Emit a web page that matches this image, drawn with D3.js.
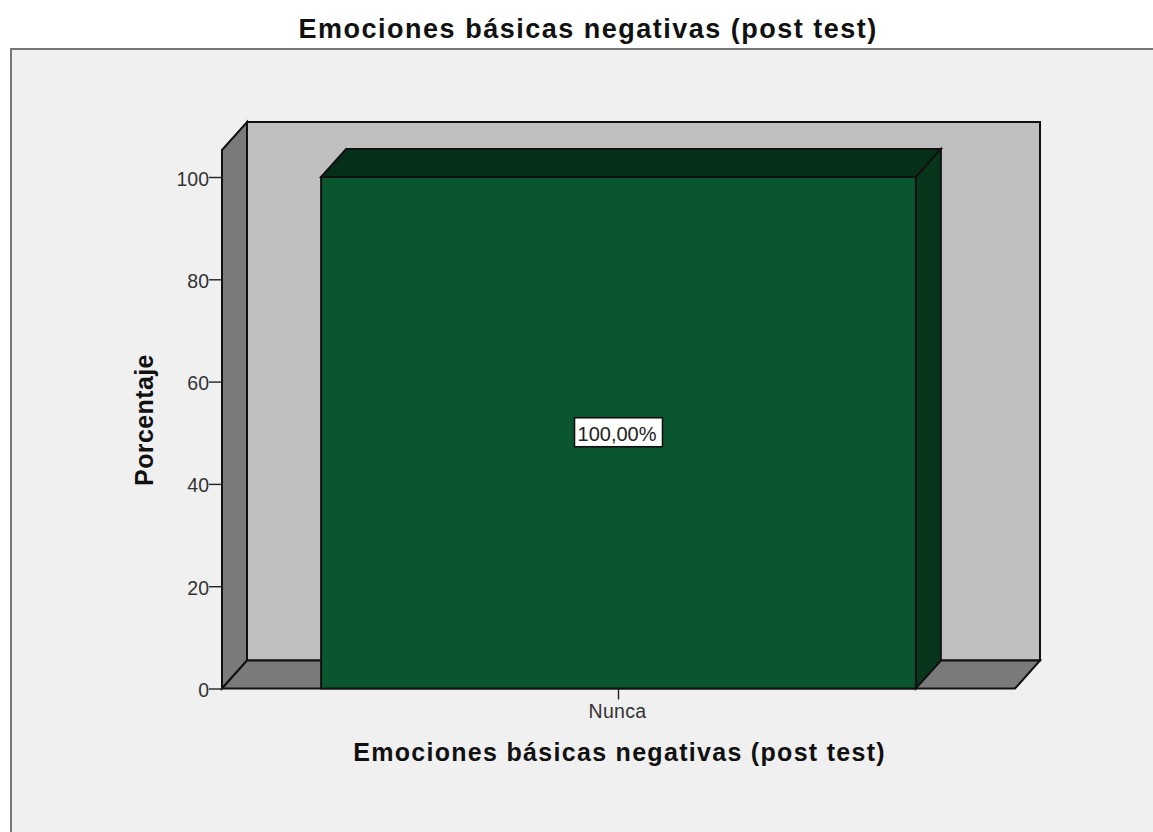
<!DOCTYPE html>
<html><head><meta charset="utf-8">
<script src="https://cdnjs.cloudflare.com/ajax/libs/d3/7.8.5/d3.min.js"></script>
<style>html,body{margin:0;padding:0;background:#fff}svg{display:block;font-family:"Liberation Sans",Arial,sans-serif}</style>
</head><body><div id="c"></div>
<script>
const categories = ["Nunca"];
const values = [100];
const valueLabels = ["100,00%"];
const yTicks = [0, 20, 40, 60, 80, 100];
const chartTitle = "Emociones básicas negativas (post test)";
const xTitle = "Emociones básicas negativas (post test)";
const yTitle = "Porcentaje";

const W = 1153, H = 832, dx = 25, dy = 28;
const left = 222, right = 1015, base = 688.5, top100 = 177;
const x = d3.scaleBand().domain(categories).range([left, right]).paddingInner(0.25).paddingOuter(0.125);
const y = d3.scaleLinear().domain([0, 100]).range([base, top100]);
const wallTop = 150;
const svg = d3.select("#c").append("svg").attr("width", W).attr("height", H);
const ink = "#111";
const poly = (pts, fill) => svg.append("path").attr("d", d3.line()(pts) + "Z")
  .attr("fill", fill).attr("stroke", ink).attr("stroke-width", 2).attr("stroke-linejoin", "miter");

svg.append("rect").attr("x", 11).attr("y", 49).attr("width", W).attr("height", H)
  .attr("fill", "#f0f0f0").attr("stroke", "#777").attr("stroke-width", 2);

// walls
poly([[left + dx, wallTop - dy], [right + dx, wallTop - dy], [right + dx, base - dy], [left + dx, base - dy]], "#bfbfbf");
poly([[left, wallTop], [left + dx, wallTop - dy], [left + dx, base - dy], [left, base]], "#7a7a7a");
poly([[left, base], [left + dx, base - dy], [right + dx, base - dy], [right, base]], "#7a7a7a");

// bars
categories.forEach((c, i) => {
  const x0 = x(c), x1 = x0 + x.bandwidth(), yt = y(values[i]), yb = y(0);
  poly([[x0, yt], [x0 + dx, yt - dy], [x1 + dx, yt - dy], [x1, yt]], "#062f19");
  poly([[x1, yt], [x1 + dx, yt - dy], [x1 + dx, yb - dy], [x1, yb]], "#07361c");
  poly([[x0, yt], [x1, yt], [x1, yb], [x0, yb]], "#0a562e");
  // label
  const cx = (x0 + x1) / 2, cy = y(values[i] / 2);
  svg.append("rect").attr("x", cx - 44).attr("y", cy - 15).attr("width", 88).attr("height", 29)
    .attr("fill", "#fff").attr("stroke", "#111").attr("stroke-width", 1.6);
  svg.append("text").attr("x", cx - 1.5).attr("y", cy + 8).attr("text-anchor", "middle")
    .attr("font-size", 20).attr("fill", "#222").text(valueLabels[i]);
});

// axes
const gy = svg.append("g").attr("transform", `translate(${left},0)`)
  .call(d3.axisLeft(y).tickValues(yTicks).tickSize(13).tickPadding(0));
gy.select(".domain").remove();
gy.selectAll("line").attr("stroke", "#222").attr("stroke-width", 1.4);
gy.selectAll("text").attr("font-size", 19.5).attr("dy", ".41em").attr("fill", "#333").attr("font-family", "inherit");

const gx = svg.append("g").attr("transform", `translate(0,${base})`)
  .call(d3.axisBottom(x).tickSize(11).tickPadding(4.7));
gx.select(".domain").remove();
gx.selectAll("line").attr("stroke", "#222").attr("stroke-width", 1.4);
gx.selectAll("text").attr("font-size", 19.5).attr("x", -1).attr("letter-spacing", 0.3).attr("fill", "#333").attr("font-family", "inherit");

// titles
svg.append("text").attr("x", 588.2).attr("y", 38).attr("text-anchor", "middle")
  .attr("font-size", 27).attr("letter-spacing", 1.5).attr("font-weight", "bold").attr("fill", "#111").text(chartTitle);
svg.append("text").attr("x", 619.6).attr("y", 761).attr("text-anchor", "middle")
  .attr("font-size", 25).attr("letter-spacing", 1.3).attr("font-weight", "bold").attr("fill", "#111").text(xTitle);
svg.append("text").attr("transform", "translate(153,420) rotate(-90)").attr("text-anchor", "middle")
  .attr("font-size", 25).attr("letter-spacing", 0.4).attr("font-weight", "bold").attr("fill", "#111").text(yTitle);
</script></body></html>
